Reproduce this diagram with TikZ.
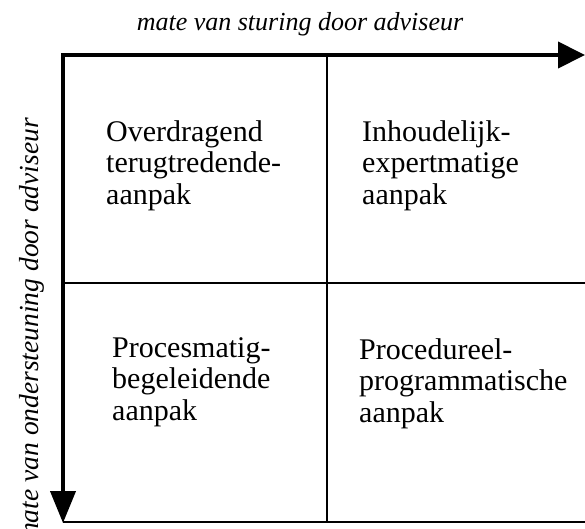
\documentclass[tikz,border=0pt]{standalone}
\usepackage{fontspec}
\setmainfont{Liberation Serif}
\usetikzlibrary{arrows.meta}
\begin{document}
\begin{tikzpicture}[x=1pt,y=-1pt,
  axis/.style={line width=4pt},
  grid/.style={line width=1.8pt},
  celltext/.style={anchor=base west,inner sep=0pt,align=left,font=\fontsize{30}{31.5}\selectfont},
  axistext/.style={inner sep=0pt,font=\fontsize{26}{30}\selectfont\itshape}]
\useasboundingbox (0,0) rectangle (585,528);
\coordinate (tl) at (63,55);
\coordinate (tr) at (585,55);
\coordinate (bl) at (63,523);
\coordinate (tstart) at (61,55);
\coordinate (ml) at (63,283);
\coordinate (mr) at (585,283);
\coordinate (mt) at (327,55);
\coordinate (mb) at (327,522);
\coordinate (bl2) at (63,522);
\coordinate (br) at (585,522);
\draw[grid] (ml) -- (mr);
\draw[grid] (mt) -- (mb);
\draw[grid] (bl2) -- (br);
\draw[axis,-{Triangle[length=27pt,width=26pt]}] (tstart) -- (tr);
\draw[axis,-{Triangle[length=32pt,width=25pt]}] (tl) -- (bl);
\node[axistext,anchor=base] (title) at (300,30) {mate van sturing door adviseur};
\node[axistext,font=\fontsize{27.5}{30}\selectfont\itshape,rotate=90,anchor=base east] (ylabel) at (38,118) {mate van ondersteuning door adviseur};
\node[celltext] (q1) at (106,204) {Overdragend\\terugtredende-\\aanpak};
\node[celltext] (q2) at (362,204) {Inhoudelijk-\\expertmatige\\aanpak};
\node[celltext] (q3) at (112,420) {Procesmatig-\\begeleidende\\aanpak};
\node[celltext] (q4) at (359,422) {Procedureel-\\programmatische\\aanpak};
\end{tikzpicture}
\end{document}
